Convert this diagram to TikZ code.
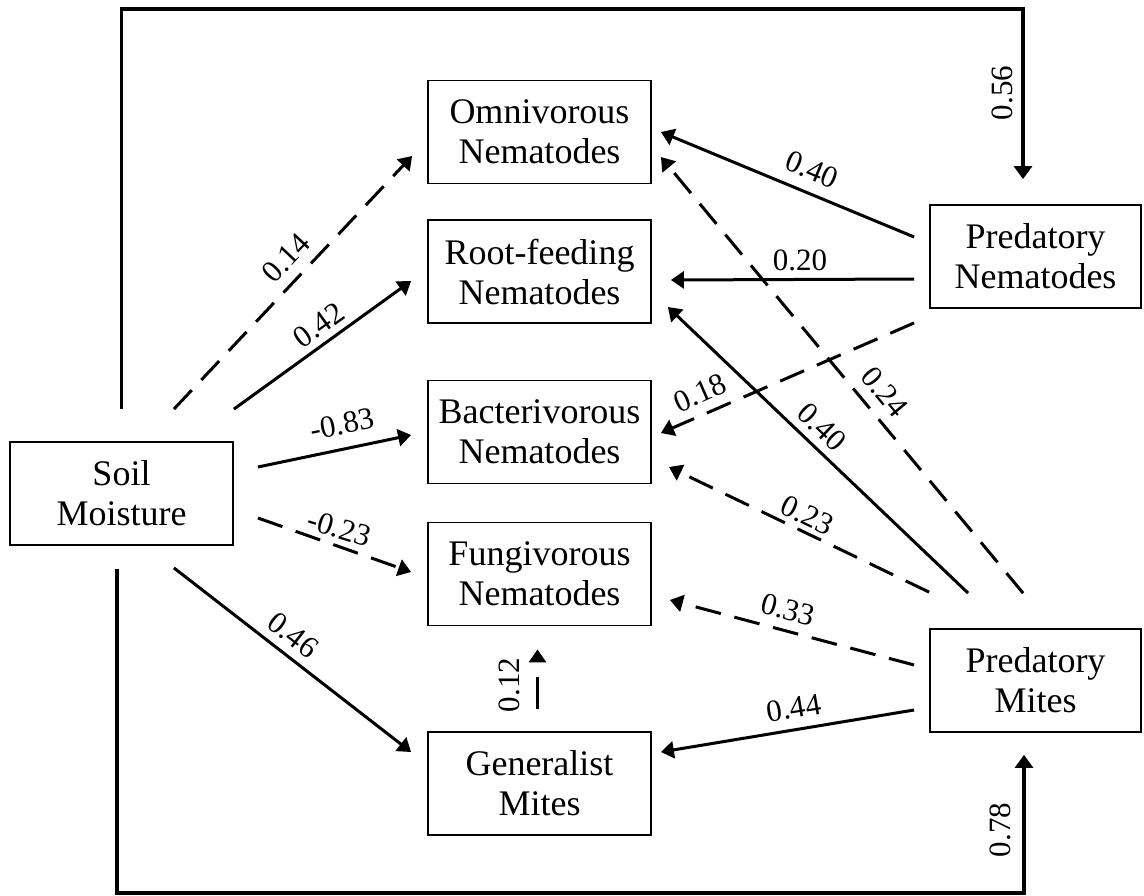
\documentclass[tikz,border=0pt]{standalone}
\usepackage{fontspec}
\setmainfont{Liberation Serif}
\usetikzlibrary{arrows.meta,calc}
\begin{document}
\begin{tikzpicture}[x=1pt,y=-1pt,
  box/.style={draw, line width=1.8pt, minimum width=223pt, minimum height=103pt, align=center, font=\fontsize{36}{40}\selectfont, inner sep=0pt},
  sidebox/.style={box, minimum width=211pt},
  conn/.style={line width=3pt, -{Triangle[length=13pt,width=17pt]}},
  dsh/.style={conn, dash pattern=on 26pt off 14pt},
  frameline/.style={line width=3.8pt, -{Triangle[length=13pt,width=18pt]}},
  lbl/.style={font=\fontsize{31}{31}\selectfont, inner sep=0pt}]
\useasboundingbox (0,0) rectangle (1144,895);
\fill[white] (0,0) rectangle (1144,895);

% nodes
\node[box] (soil) at (121.5,493.5) {Soil\\Moisture};
\node[box] (omni) at (539.5,132) {Omnivorous\\Nematodes};
\node[box] (root) at (539.5,271.5) {Root-feeding\\Nematodes};
\node[box] (bact) at (539.5,432) {Bacterivorous\\Nematodes};
\node[box] (fung) at (539.5,574) {Fungivorous\\Nematodes};
\node[box] (gen) at (539.5,783.5) {Generalist\\Mites};
\node[sidebox] (pn) at (1035.5,256.5) {Predatory\\Nematodes};
\node[sidebox] (pm) at (1035.5,680.5) {Predatory\\Mites};

\coordinate (tr) at (1023,9);
\coordinate (br) at (1024,893);

% frame connectors
\draw[frameline] ([shift={(0,-32)}]soil.north) |- (tr) -- ([shift={(-12.5,-25)}]pn.north);
\draw[frameline] ([shift={(-4.5,23)}]soil.south) |- (br) -- ([shift={(-11.5,22)}]pm.south);

% soil moisture arrows
\draw[dsh]  ([shift={(-60,-32)}]soil.north east) -- ([shift={(-15,24)}]omni.west);
\draw[conn] ([shift={(0,-32)}]soil.north east) -- ([shift={(-16,9.5)}]root.west);
\draw[conn] ([shift={(24,-26.5)}]soil.east) -- ([shift={(-16,3)}]bact.west);
\draw[dsh]  ([shift={(24,24.5)}]soil.east) -- ([shift={(-16,-2)}]fung.west);
\draw[conn] ([shift={(-60,22)}]soil.south east) -- ([shift={(-16,-31.5)}]gen.west);

% predatory nematodes arrows
\draw[conn] ([shift={(-15,-19.5)}]pn.west) -- ([shift={(9,0)}]omni.east);
\draw[conn] ([shift={(-15,22.5)}]pn.west) -- ([shift={(19,8.5)}]root.east);
\draw[dsh]  ([shift={(-15,14)}]pn.south west) -- ([shift={(9,1)}]bact.east);

% predatory mites arrows
\draw[dsh]  ([shift={(94,-35)}]pm.north west) -- ([shift={(9,25)}]omni.east);
\draw[conn] ([shift={(39,-35)}]pm.north west) -- ([shift={(16,35.5)}]root.east);
\draw[dsh]  ([shift={(0,-36)}]pm.north west) -- ([shift={(17,35)}]bact.east);
\draw[dsh]  ([shift={(-15,-15.5)}]pm.west) -- ([shift={(18,26)}]fung.east);
\draw[conn] ([shift={(-15,29.5)}]pm.west) -- ([shift={(9,-31.5)}]gen.east);

% generalist mites to fungivorous
\draw[conn, dash pattern=on 32pt off 20pt] ([shift={(-2,-22)}]gen.north) -- ([shift={(-2,23)}]fung.south);

% labels
\node[lbl, rotate=46.6] (l1) at (286,258) {0.14};
\node[lbl, rotate=35.8] (l2) at (319,325) {0.42};
\node[lbl, rotate=11] (l3) at (342,424) {-0.83};
\node[lbl, rotate=-17] (l4) at (339,528) {-0.23};
\node[lbl, rotate=-37.7] (l5) at (293,635) {0.46};
\node[lbl, rotate=-22.4] (l6) at (812,170) {0.40};
\node[lbl] (l7) at (800,260) {0.20};
\node[lbl, rotate=23.5] (l8) at (700,393) {0.18};
\node[lbl, rotate=-50.2] (l9) at (885,392) {0.24};
\node[lbl, rotate=-43.5] (l10) at (822,427) {0.40};
\node[lbl, rotate=-25.7] (l11) at (807,515) {0.23};
\node[lbl, rotate=-14.8] (l12) at (788,610) {0.33};
\node[lbl, rotate=9.4] (l13) at (794,708) {0.44};
\node[lbl, rotate=90] (l14) at (509,685) {0.12};
\node[lbl, rotate=90] (l15) at (1002,93) {0.56};
\node[lbl, rotate=90] (l16) at (1000,830) {0.78};
\end{tikzpicture}
\end{document}
